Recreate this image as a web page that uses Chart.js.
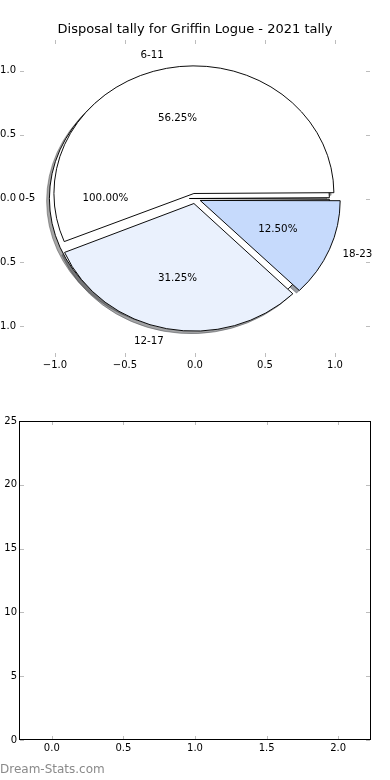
<!DOCTYPE html>
<html><head><meta charset="utf-8">
<script src="https://cdn.jsdelivr.net/npm/chart.js@4.4.0/dist/chart.umd.min.js"></script>
<style>
html,body{margin:0;padding:0;background:#fff;}
#wrap{position:relative;width:390px;height:780px;overflow:hidden;background:#fff;}
canvas{position:absolute;left:0;}
#wm{position:absolute;left:0;top:762px;font:12px "DejaVu Sans",sans-serif;color:#8a8a8a;white-space:nowrap;}
</style></head><body>
<div id="wrap">
<canvas id="topAxes" width="390" height="397" style="top:0"></canvas>
<canvas id="pie" width="390" height="397" style="top:0"></canvas>
<canvas id="bottom" width="390" height="380" style="top:400px"></canvas>
<div id="wm">Dream-Stats.com</div>
</div>
<script>
// ---- data ----
const titleText = 'Disposal tally for Griffin Logue - 2021 tally';
const categories = ['0-5', '6-11', '12-17', '18-23'];
const sharePct = [100.00, 56.25, 31.25, 12.50];
const sliceColors = ['#ffffff', '#ffffff', '#eaf1fd', '#c6dafc'];
const pieTickValues = [-1.0, -0.5, 0.0, 0.5, 1.0];
const bottomXTicks = [0.0, 0.5, 1.0, 1.5, 2.0];
const bottomYTicks = [0, 5, 10, 15, 20, 25];

// ---- style ----
const FONT = '"DejaVu Sans", sans-serif';
const EXPLODE = 0.04, SHADOW = 0.02, LABEL_DIST = 1.1, PCT_DIST = 0.6;
const tickGrey = '#bdbdbd';
const fmt1 = v => (v < 0 ? '\u2212' : '') + Math.abs(v).toFixed(1);
const shade = hex => {
  const n = parseInt(hex.slice(1), 16);
  const r = Math.round(0.3 * (n >> 16 & 255)), g = Math.round(0.3 * (n >> 8 & 255)), b = Math.round(0.3 * (n & 255));
  return `rgba(${r},${g},${b},0.5)`;
};

const inwardTicks = {
  id: 'inwardTicks',
  afterDraw(chart, args, opts) {
    const {ctx, chartArea: a, scales} = chart;
    ctx.save();
    ctx.strokeStyle = opts.color; ctx.lineWidth = 1;
    const L = opts.len;
    ctx.beginPath();
    scales.x.ticks.forEach(t => {
      const px = Math.round(scales.x.getPixelForValue(t.value)) + 0.5;
      ctx.moveTo(px, a.top); ctx.lineTo(px, a.top + L);
      ctx.moveTo(px, a.bottom); ctx.lineTo(px, a.bottom - L);
    });
    scales.y.ticks.forEach(t => {
      const py = Math.round(scales.y.getPixelForValue(t.value)) + 0.5;
      ctx.moveTo(a.left, py); ctx.lineTo(a.left + L, py);
      ctx.moveTo(a.right, py); ctx.lineTo(a.right - L, py);
    });
    ctx.stroke();
    if (opts.frame) {
      ctx.strokeStyle = '#000'; ctx.lineWidth = 1;
      ctx.strokeRect(Math.round(a.left) - 0.5, Math.round(a.top) + 0.5, Math.round(a.width) + 1, Math.round(a.height) - 1);
    }
    ctx.restore();
  }
};

const setTicks = vals => s => { s.ticks = vals.map(v => ({value: v})); };
const rightSpacer = {
  type: 'linear', position: 'right', axis: 'y', min: 0, max: 1,
  afterFit: s => { s.width = 20; },
  grid: {display: false, drawTicks: false}, border: {display: false}, ticks: {display: false}
};

// ---- top axes (pie frame) ----
const topAxes = new Chart(document.getElementById('topAxes'), {
  type: 'scatter',
  data: {datasets: [{data: []}]},
  options: {
    responsive: false, animation: false, events: [],
    layout: {padding: 0},
    plugins: {
      legend: {display: false}, tooltip: {enabled: false},
      title: {display: true, text: titleText, color: '#000',
        font: {family: FONT, size: 13, weight: 'normal', lineHeight: 1.2}, padding: {top: 22, bottom: 2.4}},
      inwardTicks: {color: tickGrey, len: 4, frame: false}
    },
    scales: {
      x: {type: 'linear', min: -1.25, max: 1.25, afterBuildTicks: setTicks(pieTickValues),
        afterFit: s => { s.height = 40; },
        grid: {display: false, drawTicks: false}, border: {display: false},
        ticks: {callback: v => fmt1(v), font: {family: FONT, size: 10}, color: '#000', padding: 2, maxRotation: 0, autoSkip: false}},
      y: {type: 'linear', min: -1.242, max: 1.242, afterBuildTicks: setTicks(pieTickValues),
        afterFit: s => { s.width = 20; },
        grid: {display: false, drawTicks: false}, border: {display: false},
        ticks: {callback: v => fmt1(v), font: {family: FONT, size: 10}, color: '#000', padding: 4, autoSkip: false}},
      yRight: rightSpacer
    }
  },
  plugins: [inwardTicks]
});

// geometry from the axes scales
const xs = topAxes.scales.x, ys = topAxes.scales.y;
const cx = xs.getPixelForValue(0), cy = ys.getPixelForValue(0);
const R = xs.getPixelForValue(1) - cx;
const k = (cy - ys.getPixelForValue(1)) / R;
const OFFSET = 4 * EXPLODE * R;

const pieLayer = {
  id: 'pieLayer',
  afterDatasetsUpdate(chart) {
    chart.data.datasets.forEach((ds, i) => {
      chart.getDatasetMeta(i).data.forEach(el => {
        const off = ((el.options && el.options.offset) || 0) / 4;
        const fix = 1 - Math.sin(Math.min(Math.PI, el.circumference));
        el.x = cx; el.y = cy;
        el.innerRadius = 0;
        el.outerRadius = R - off * fix;
      });
    });
  },
  beforeDatasetsDraw(chart) {
    const ctx = chart.ctx;
    ctx.save();
    ctx.translate(cx, cy); ctx.scale(1, -k); ctx.translate(-cx, -cy);
  },
  beforeDatasetDraw(chart, args) {
    if (chart.data.datasets[args.index].isShadow) {
      chart.ctx.save();
      chart.ctx.translate(-SHADOW * R, -SHADOW * R);
    }
  },
  afterDatasetDraw(chart, args) {
    if (chart.data.datasets[args.index].isShadow) chart.ctx.restore();
  },
  afterDatasetsDraw(chart) {
    const ctx = chart.ctx;
    ctx.restore();
    ctx.save();
    ctx.fillStyle = '#000';
    ctx.font = `10.3px ${FONT}`;
    ctx.textBaseline = 'middle';
    const items = [];
    chart.getDatasetMeta(1).data.forEach(el => items.push([el, 0]));
    chart.getDatasetMeta(0).data.forEach((el, j) => items.push([el, j + 1]));
    items.forEach(([el, idx]) => {
      const th = (el.startAngle + el.endAngle) / 2;
      const off = el.options.offset / 4;
      const c = Math.cos(th), s = Math.sin(th);
      const ex = off * c, ey = off * s;
      const lx = cx + ex + LABEL_DIST * R * c, ly = cy - k * (ey + LABEL_DIST * R * s);
      ctx.textAlign = (ex + LABEL_DIST * R * c) > 0 ? 'left' : 'right';
      ctx.fillText(categories[idx], lx, ly);
      const px = cx + ex + PCT_DIST * R * c, py = cy - k * (ey + PCT_DIST * R * s);
      ctx.textAlign = 'center';
      ctx.fillText(sharePct[idx].toFixed(2) + '%', px, py);
    });
    ctx.restore();
  }
};

const wedgeStyle = {borderColor: '#000', borderWidth: 1, borderJoinStyle: 'miter', offset: OFFSET, hoverOffset: 0};
new Chart(document.getElementById('pie'), {
  type: 'pie',
  data: {
    labels: categories.slice(1),
    datasets: [
      Object.assign({data: sharePct.slice(1), backgroundColor: sliceColors.slice(1)}, wedgeStyle),
      Object.assign({data: [sharePct[0]], backgroundColor: [sliceColors[0]]}, wedgeStyle),
      Object.assign({data: sharePct.slice(1), isShadow: true}, wedgeStyle,
        {backgroundColor: sliceColors.slice(1).map(shade), borderColor: sliceColors.slice(1).map(shade)}),
      Object.assign({data: [sharePct[0]], isShadow: true}, wedgeStyle,
        {backgroundColor: [shade(sliceColors[0])], borderColor: [shade(sliceColors[0])]})
    ]
  },
  options: {
    responsive: false, animation: false, events: [],
    rotation: 90, radius: R, clip: false,
    plugins: {legend: {display: false}, tooltip: {enabled: false}}
  },
  plugins: [pieLayer]
});

// ---- bottom (empty) axes ----
new Chart(document.getElementById('bottom'), {
  type: 'scatter',
  data: {datasets: [{data: []}]},
  options: {
    responsive: false, animation: false, events: [],
    layout: {padding: {left: 0, right: 0, top: 21, bottom: 0}},
    plugins: {legend: {display: false}, tooltip: {enabled: false},
      inwardTicks: {color: tickGrey, len: 4, frame: true}},
    scales: {
      x: {type: 'linear', min: -0.222, max: 2.222, afterBuildTicks: setTicks(bottomXTicks),
        afterFit: s => { s.height = 40; },
        grid: {display: false, drawTicks: false}, border: {display: false},
        ticks: {callback: v => fmt1(v), font: {family: FONT, size: 10}, color: '#000', padding: 2, maxRotation: 0, autoSkip: false}},
      y: {type: 'linear', min: 0, max: 25, afterBuildTicks: setTicks(bottomYTicks),
        afterFit: s => { s.width = 20; },
        grid: {display: false, drawTicks: false}, border: {display: false},
        ticks: {callback: v => String(v), font: {family: FONT, size: 10}, color: '#000', padding: 3, autoSkip: false}},
      yRight: rightSpacer
    }
  },
  plugins: [inwardTicks]
});
</script>
</body></html>
